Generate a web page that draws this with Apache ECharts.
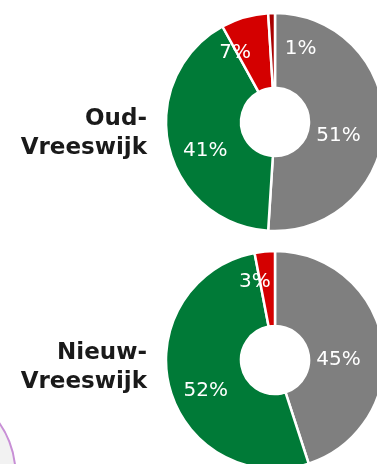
<!DOCTYPE html>
<html>
<head>
<meta charset="utf-8">
<script src="https://cdn.jsdelivr.net/npm/echarts@6/dist/echarts.min.js"></script>
<style>
  html, body { margin: 0; padding: 0; background: #ffffff; }
  #chart { width: 377px; height: 464px; }
</style>
</head>
<body>
<div id="chart"></div>
<script>
// Wijken (district names), one donut per district
const districts = ['Oud-\nVreeswijk', 'Nieuw-\nVreeswijk'];

// Share per category, clockwise from 12 o'clock (percentages)
const oudValues = [51, 41, 7, 1];
const nieuwValues = [45, 52, 3];

// Slice colours in the same order
const oudColors = ['#7f7f7f', '#007a37', '#d40000', '#a80000'];
const nieuwColors = ['#7f7f7f', '#007a37', '#d40000'];

// Nudges for the percentage labels, per slice
const oudLabelShift = [[-11, 11], [3, 13], [-19, 2], [28, 1]];
const nieuwLabelShift = [[-10, 11], [3, 12], [-13, -4]];

const labelFont = "'DejaVu Sans', Verdana, sans-serif";

function donut(values, colors, shifts, centerY) {
  return {
    type: 'pie',
    center: [275, centerY],
    radius: [34, 109],
    startAngle: 90,
    clockwise: true,
    avoidLabelOverlap: false,
    silent: true,
    animation: false,
    itemStyle: { borderColor: '#ffffff', borderWidth: 2.5 },
    label: {
      show: true,
      position: 'inside',
      formatter: '{c}%',
      color: '#ffffff',
      fontFamily: labelFont,
      fontSize: 20,
      fontWeight: 'normal'
    },
    labelLine: { show: false },
    labelLayout: function (p) {
      const s = shifts[p.dataIndex];
      return { dx: s[0], dy: s[1] };
    },
    data: values.map(function (v, i) {
      return { value: v, itemStyle: { color: colors[i] } };
    })
  };
}

const nameFont = "bold 23px 'DejaVu Sans', Verdana, sans-serif";

const chart = echarts.init(document.getElementById('chart'), null, { renderer: 'canvas' });
chart.setOption({
  backgroundColor: '#ffffff',
  animation: false,
  graphic: [
    {
      type: 'circle',
      shape: { cx: -72.5, cy: 474, r: 88 },
      style: { fill: '#f2f2f2', stroke: '#c88fd6', lineWidth: 2 },
      silent: true
    },
    {
      type: 'text',
      x: 147, y: 105,
      style: {
        text: districts[0],
        align: 'right',
        fill: '#1a1a1a',
        font: nameFont,
        lineHeight: 29
      }
    },
    {
      type: 'text',
      x: 147, y: 339,
      style: {
        text: districts[1],
        align: 'right',
        fill: '#1a1a1a',
        font: nameFont,
        lineHeight: 29
      }
    }
  ],
  series: [
    donut(oudValues, oudColors, oudLabelShift, 122),
    donut(nieuwValues, nieuwColors, nieuwLabelShift, 360)
  ]
});
</script>
</body>
</html>
